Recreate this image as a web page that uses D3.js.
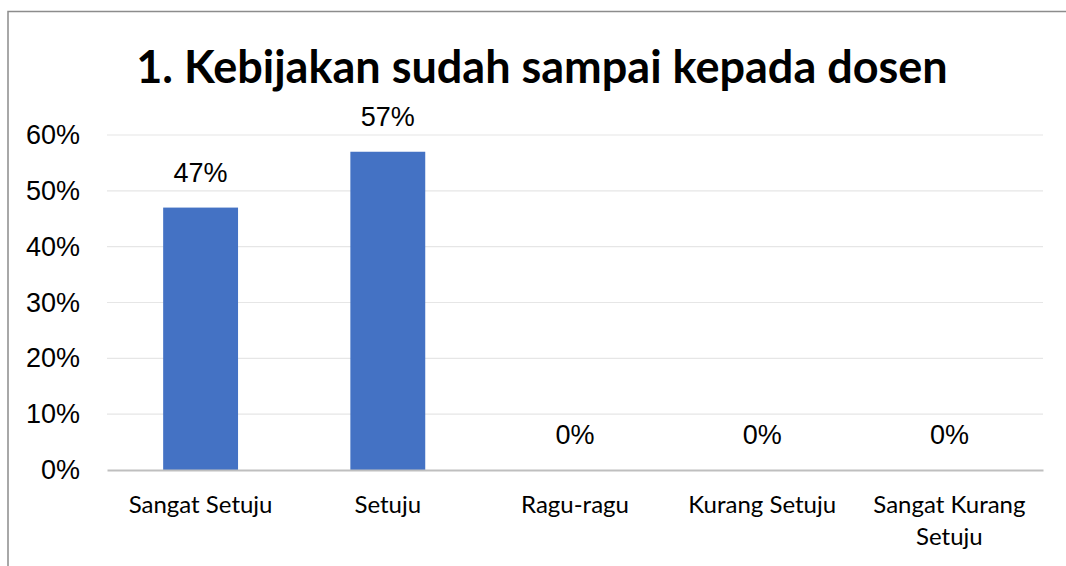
<!DOCTYPE html>
<html>
<head>
<meta charset="utf-8">
<script src="https://cdn.jsdelivr.net/npm/d3@7"></script>
<style>
  body { margin: 0; background: #fff; }
</style>
</head>
<body>
<div id="chart"></div>
<script>
const categories = ["Sangat Setuju", "Setuju", "Ragu-ragu", "Kurang Setuju", "Sangat Kurang Setuju"];
const values = [0.47, 0.57, 0, 0, 0];
const yTicks = [0, 0.1, 0.2, 0.3, 0.4, 0.5, 0.6];
const title = "1. Kebijakan sudah sampai kepada dosen";

const width = 1066;
const height = 566;
const margin = {top: 135, right: 23, bottom: 96, left: 107};

const svg = d3.select("#chart")
              .append("svg")
              .attr("width", width)
              .attr("height", height);

// outer frame (only top and left are visible in the crop)
svg.append("path")
   .attr("d", "M 8 566 V 11.5 H 1066")
   .attr("fill", "none")
   .attr("stroke", "#8c8c8c")
   .attr("stroke-width", 1.5);

const x = d3.scaleBand()
            .domain(categories)
            .range([margin.left, width - margin.right])
            .paddingInner(0.6)
            .paddingOuter(0.3);

const y = d3.scaleLinear()
            .domain([0, 0.6])
            .range([height - margin.bottom, margin.top]);

// gridlines
svg.append("g")
   .selectAll("line")
   .data(yTicks.slice(1))
   .join("line")
   .attr("x1", margin.left)
   .attr("x2", width - margin.right)
   .attr("y1", d => y(d))
   .attr("y2", d => y(d))
   .attr("stroke", "#e6e6e6")
   .attr("stroke-width", 1.2);

// y axis labels
const yAxis = d3.axisLeft(y)
                .tickValues(yTicks)
                .tickFormat(d3.format(".0%"))
                .tickSize(0)
                .tickPadding(27);
const gy = svg.append("g")
              .attr("transform", `translate(${margin.left},0)`)
              .call(yAxis);
gy.select(".domain").remove();
gy.selectAll("text")
  .attr("font-family", "'Liberation Sans', Arial, sans-serif")
  .attr("font-size", 27)
  .attr("fill", "#000");

// bars
svg.append("g")
   .selectAll("rect")
   .data(values)
   .join("rect")
   .attr("x", (d, i) => x(categories[i]))
   .attr("width", x.bandwidth())
   .attr("y", d => y(d))
   .attr("height", d => y(0) - y(d))
   .attr("fill", "#4472c4");

// baseline axis
const xAxis = d3.axisBottom(x).tickSize(0).tickPadding(0);
const gx = svg.append("g")
              .attr("transform", `translate(0,${y(0)})`)
              .call(xAxis);
gx.select(".domain")
  .attr("stroke", "#bfbfbf")
  .attr("stroke-width", 2);
gx.selectAll("text").remove();

// category labels with wrapping
const step = x.step();
svg.append("g")
   .selectAll("text")
   .data(categories)
   .join("text")
   .attr("x", d => x(d) + x.bandwidth() / 2)
   .attr("y", y(0) + 43)
   .attr("text-anchor", "middle")
   .attr("font-family", "Lato, 'Open Sans', sans-serif")
   .attr("font-size", 24)
   .attr("fill", "#000")
   .each(function(d) {
     const el = d3.select(this);
     const words = d.split(" ");
     let lines = [];
     let line = [];
     const tmp = el.append("tspan");
     words.forEach(w => {
       line.push(w);
       tmp.text(line.join(" "));
       if (tmp.node().getComputedTextLength() > step - 10 && line.length > 1) {
         line.pop();
         lines.push(line.join(" "));
         line = [w];
       }
     });
     lines.push(line.join(" "));
     tmp.remove();
     lines.forEach((l, i) => {
       el.append("tspan")
         .attr("x", x(d) + x.bandwidth() / 2)
         .attr("dy", i === 0 ? 0 : 32)
         .text(l);
     });
   });

// data labels
svg.append("g")
   .selectAll("text")
   .data(values)
   .join("text")
   .attr("x", (d, i) => x(categories[i]) + x.bandwidth() / 2)
   .attr("y", d => y(d) - 26)
   .attr("text-anchor", "middle")
   .attr("font-family", "'Liberation Sans', Arial, sans-serif")
   .attr("font-size", 27)
   .attr("fill", "#000")
   .text(d => d3.format(".0%")(d));

// title
svg.append("text")
   .attr("x", 542)
   .attr("y", 83)
   .attr("text-anchor", "middle")
   .attr("font-family", "Lato, 'Open Sans', sans-serif")
   .attr("font-weight", "bold")
   .attr("font-size", 45)
   .attr("fill", "#000")
   .text(title);
</script>
</body>
</html>
